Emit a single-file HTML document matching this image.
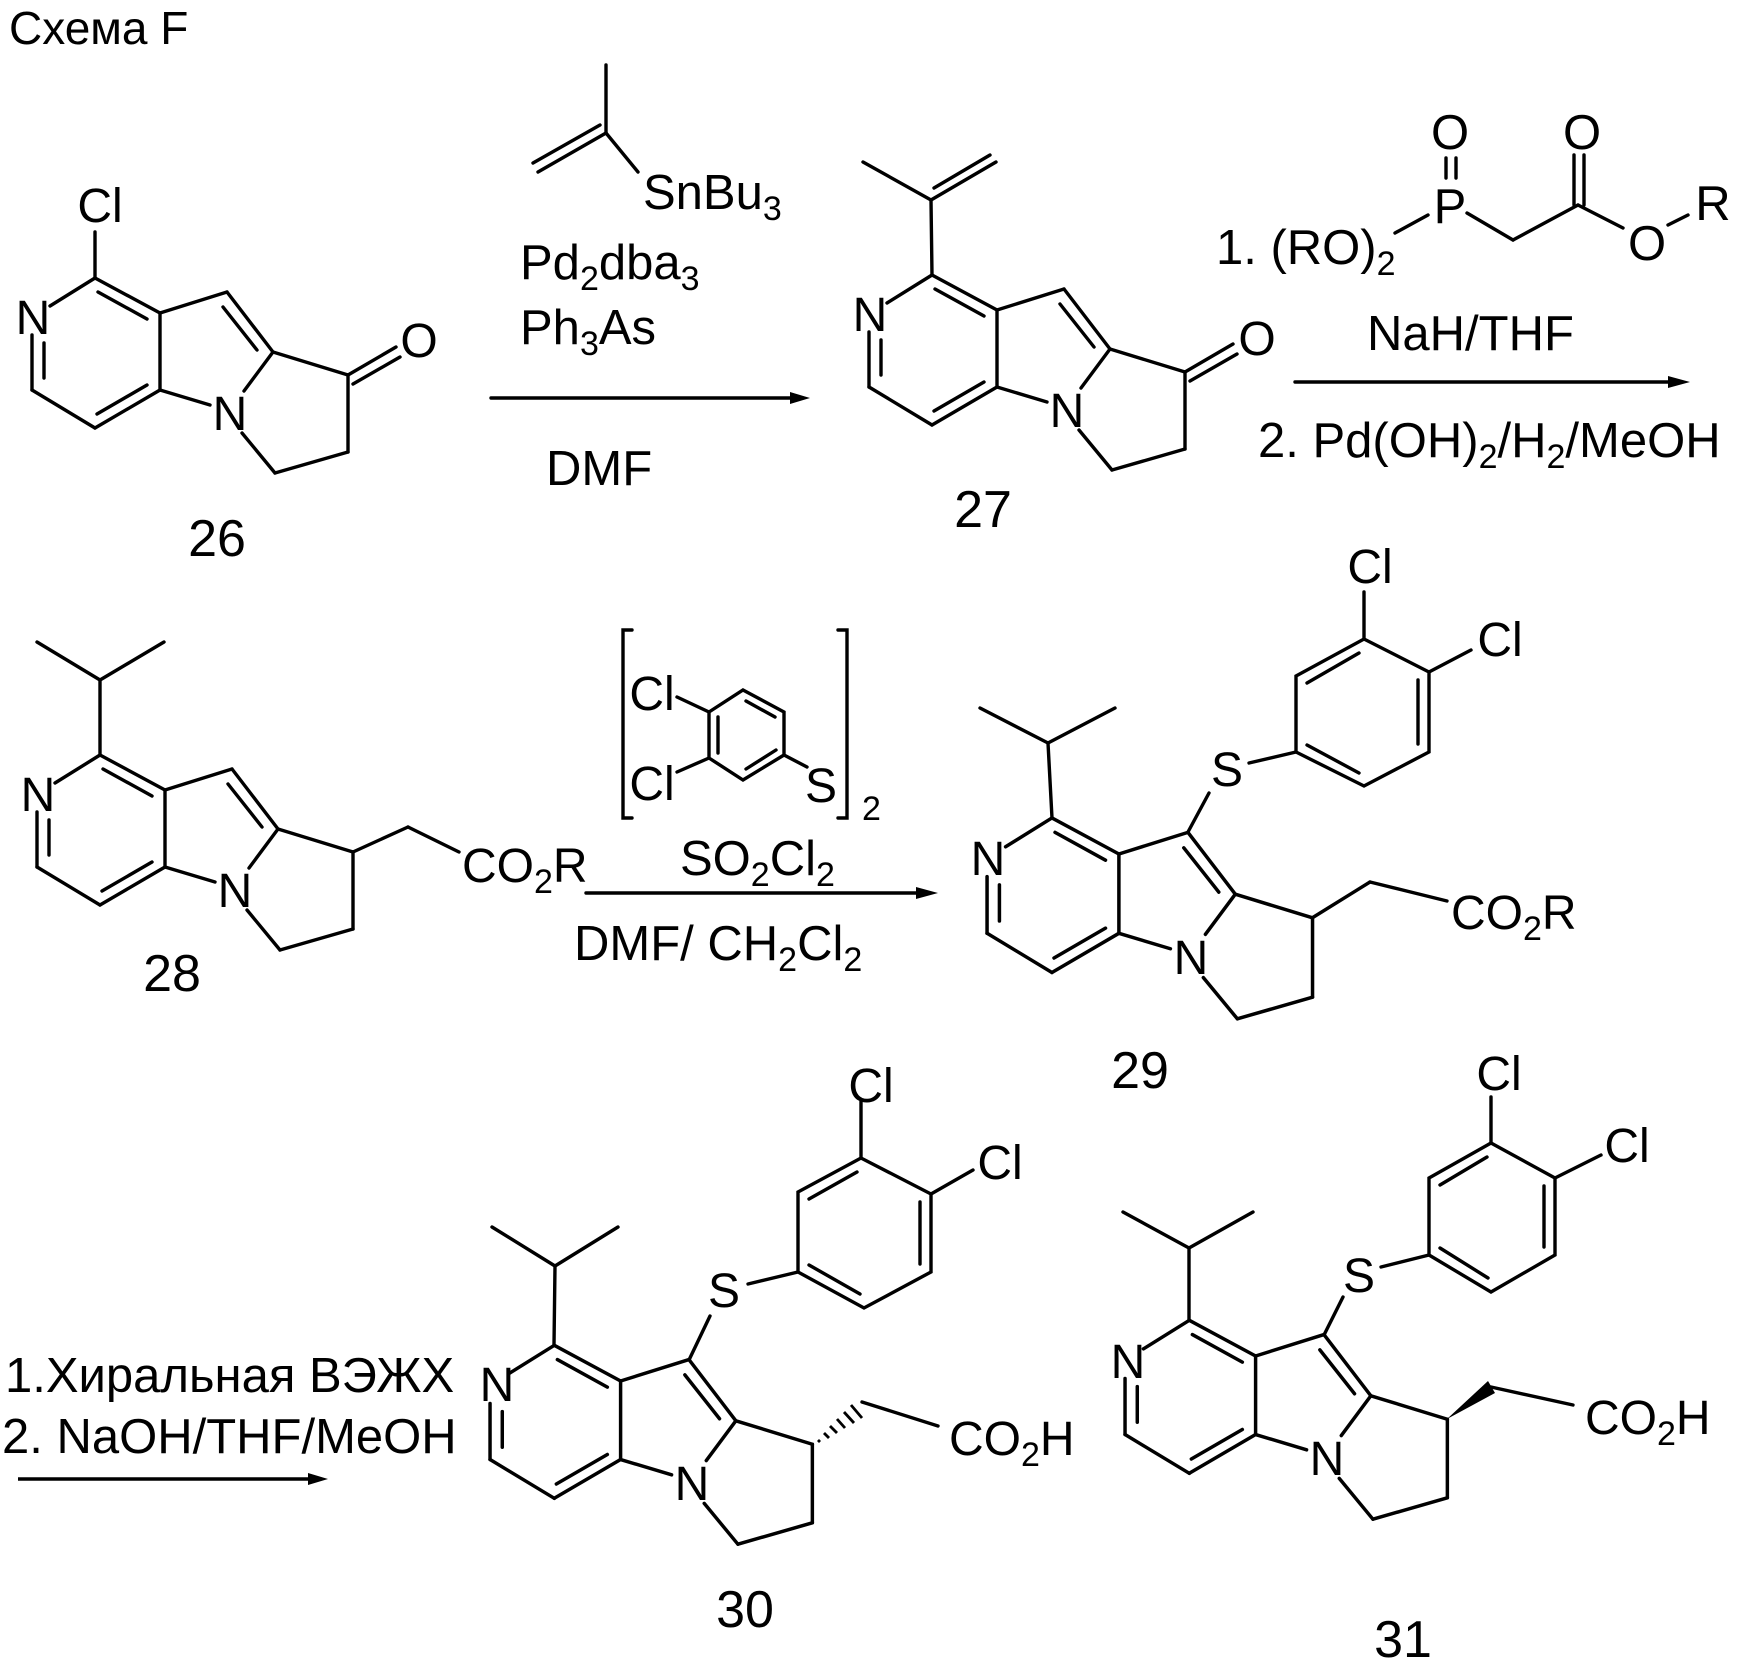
<!DOCTYPE html>
<html><head><meta charset="utf-8"><style>
html,body{margin:0;padding:0;background:#fff;}
svg{display:block;}
text{font-family:"Liberation Sans","DejaVu Sans",sans-serif;fill:#000;}
</style></head><body>
<svg width="1743" height="1662" viewBox="0 0 1743 1662" xmlns="http://www.w3.org/2000/svg">
<defs>
<g id="core" stroke="#000" stroke-width="3.4" fill="none" stroke-linecap="round">
<line x1="-135" y1="-135" x2="-180" y2="-107"/>
<line x1="-198" y1="-78" x2="-198" y2="-23"/>
<line x1="-186" y1="-70" x2="-186" y2="-35"/>
<line x1="-198" y1="-23" x2="-135" y2="15"/>
<line x1="-135" y1="15" x2="-70" y2="-23"/>
<line x1="-133" y1="1" x2="-83" y2="-28"/>
<line x1="-70" y1="-23" x2="-70" y2="-100"/>
<line x1="-70" y1="-100" x2="-135" y2="-135"/>
<line x1="-83" y1="-94" x2="-132" y2="-121"/>
<line x1="-70" y1="-100" x2="-3" y2="-121"/>
<line x1="-3" y1="-121" x2="43" y2="-61"/>
<line x1="-7" y1="-106" x2="27" y2="-63"/>
<line x1="43" y1="-61" x2="14" y2="-22"/>
<line x1="-70" y1="-23" x2="-20" y2="-8"/>
<line x1="43" y1="-61" x2="118" y2="-38"/>
<line x1="118" y1="-38" x2="118" y2="39"/>
<line x1="118" y1="39" x2="45" y2="60"/>
<line x1="45" y1="60" x2="12" y2="20"/>
</g>
</defs>

<text x="9" y="44" font-size="46">Схема F</text>

<!-- 26 -->
<use href="#core" transform="translate(230,413)"/>
<g font-size="48" text-anchor="middle">
<text x="230" y="430">N</text><text x="33" y="334">N</text>
<text x="100" y="222">Cl</text><text x="419" y="357">O</text>
</g>
<text x="217" y="556" font-size="52" text-anchor="middle">26</text>
<g stroke="#000" stroke-width="3.4" stroke-linecap="round">
<line x1="95" y1="278" x2="95" y2="232"/>
<line x1="348" y1="375" x2="396" y2="347"/>
<line x1="353" y1="384" x2="400" y2="357"/>
</g>

<!-- reaction 1 -->
<g stroke="#000" stroke-width="3.4" stroke-linecap="round">
<line x1="606" y1="65" x2="606" y2="133"/>
<line x1="606" y1="133" x2="538" y2="172"/>
<line x1="600" y1="125" x2="533" y2="163"/>
<line x1="606" y1="133" x2="638" y2="172"/>
<line x1="491" y1="398" x2="795" y2="398"/>
</g>
<polygon points="810,398 790,392 790,404" fill="#000"/>
<g font-size="49">
<text x="643" y="209">SnBu<tspan font-size="34" dy="11">3</tspan></text>
<text x="520" y="279">Pd<tspan font-size="34" dy="11">2</tspan><tspan dy="-11">dba</tspan><tspan font-size="34" dy="11">3</tspan></text>
<text x="520" y="344">Ph<tspan font-size="34" dy="11">3</tspan><tspan dy="-11">As</tspan></text>
<text x="546" y="485">DMF</text>
</g>

<!-- 27 -->
<use href="#core" transform="translate(1067,410)"/>
<g font-size="48" text-anchor="middle">
<text x="1067" y="427">N</text><text x="870" y="331">N</text>
<text x="1257" y="355">O</text>
</g>
<text x="983" y="527" font-size="52" text-anchor="middle">27</text>
<g stroke="#000" stroke-width="3.4" stroke-linecap="round">
<line x1="932" y1="275" x2="931" y2="200"/>
<line x1="931" y1="200" x2="863" y2="162"/>
<line x1="931" y1="200" x2="996" y2="162"/>
<line x1="934" y1="188" x2="990" y2="155"/>
<line x1="1185" y1="372" x2="1233" y2="344"/>
<line x1="1190" y1="381" x2="1237" y2="354"/>
</g>

<!-- reaction 2 -->
<g stroke="#000" stroke-width="3.4" stroke-linecap="round">
<line x1="1395" y1="233" x2="1428" y2="215"/>
<line x1="1446" y1="158" x2="1446" y2="178"/>
<line x1="1456" y1="158" x2="1456" y2="178"/>
<line x1="1467" y1="213" x2="1513" y2="240"/>
<line x1="1513" y1="240" x2="1578" y2="205"/>
<line x1="1574" y1="205" x2="1574" y2="155"/>
<line x1="1584" y1="205" x2="1584" y2="155"/>
<line x1="1578" y1="205" x2="1623" y2="228"/>
<line x1="1668" y1="225" x2="1688" y2="215"/>
<line x1="1295" y1="382" x2="1672" y2="382"/>
</g>
<polygon points="1690,382 1668,376 1668,388" fill="#000"/>
<g font-size="49">
<text x="1216" y="264">1. (RO)<tspan font-size="34" dy="11">2</tspan></text>
<text x="1450" y="223" text-anchor="middle">P</text>
<text x="1450" y="149" text-anchor="middle">O</text>
<text x="1582" y="149" text-anchor="middle">O</text>
<text x="1647" y="260" text-anchor="middle">O</text>
<text x="1713" y="220" text-anchor="middle">R</text>
<text x="1367" y="350">NaH/THF</text>
<text x="1258" y="457">2. Pd(OH)<tspan font-size="34" dy="11">2</tspan><tspan dy="-11">/H</tspan><tspan font-size="34" dy="11">2</tspan><tspan dy="-11">/MeOH</tspan></text>
</g>

<!-- 28 -->
<use href="#core" transform="translate(235,890)"/>
<g font-size="48" text-anchor="middle">
<text x="235" y="907">N</text><text x="38" y="811">N</text>
</g>
<text x="172" y="991" font-size="52" text-anchor="middle">28</text>
<g stroke="#000" stroke-width="3.4" stroke-linecap="round">
<line x1="100" y1="755" x2="100" y2="680"/>
<line x1="100" y1="680" x2="37" y2="642"/>
<line x1="100" y1="680" x2="164" y2="642"/>
<line x1="353" y1="852" x2="408" y2="827"/>
<line x1="408" y1="827" x2="459" y2="852"/>
</g>
<text x="462" y="882" font-size="48">CO<tspan font-size="34" dy="11">2</tspan><tspan dy="-11">R</tspan></text>

<!-- reaction 3 -->
<g stroke="#000" stroke-width="3.4" stroke-linecap="round" fill="none">
<polyline points="632,630 623,630 623,818 632,818"/>
<polyline points="838,630 847,630 847,818 838,818"/>
<polygon points="743,690 784,712 784,755 743,780 709,758 709,712"/>
<line x1="746" y1="701" x2="775" y2="717"/>
<line x1="776" y1="750" x2="746" y2="769"/>
<line x1="718" y1="717" x2="718" y2="753"/>
<line x1="677" y1="697" x2="709" y2="712"/>
<line x1="677" y1="772" x2="709" y2="758"/>
<line x1="784" y1="755" x2="807" y2="767"/>
<line x1="586" y1="893" x2="920" y2="893"/>
</g>
<polygon points="938,893 916,887 916,899" fill="#000"/>
<g font-size="48">
<text x="652" y="710" text-anchor="middle">Cl</text>
<text x="652" y="800" text-anchor="middle">Cl</text>
<text x="821" y="802" text-anchor="middle">S</text>
<text x="862" y="820" font-size="34">2</text>
</g>
<g font-size="49">
<text x="680" y="875">SO<tspan font-size="34" dy="11">2</tspan><tspan dy="-11">Cl</tspan><tspan font-size="34" dy="11">2</tspan></text>
<text x="574" y="960">DMF/ CH<tspan font-size="34" dy="11">2</tspan><tspan dy="-11">Cl</tspan><tspan font-size="34" dy="11">2</tspan></text>
</g>

<!-- 29 -->
<use href="#core" transform="translate(1191,957) scale(1.03)"/>
<g font-size="48" text-anchor="middle">
<text x="1191" y="974">N</text><text x="988" y="875">N</text>
<text x="1227" y="786">S</text>
<text x="1370" y="583">Cl</text><text x="1500" y="656">Cl</text>
</g>
<text x="1140" y="1088" font-size="52" text-anchor="middle">29</text>
<g stroke="#000" stroke-width="3.4" stroke-linecap="round" fill="none">
<line x1="1052" y1="818" x2="1048" y2="743"/>
<line x1="1048" y1="743" x2="980" y2="708"/>
<line x1="1048" y1="743" x2="1115" y2="708"/>
<line x1="1188" y1="832" x2="1209" y2="793"/>
<line x1="1249" y1="763" x2="1296" y2="752"/>
<polygon points="1296,752 1296,676 1364,639 1429,672 1429,752 1364,786"/>
<line x1="1307" y1="683" x2="1359" y2="653"/>
<line x1="1418" y1="680" x2="1418" y2="744"/>
<line x1="1307" y1="745" x2="1359" y2="773"/>
<line x1="1364" y1="639" x2="1364" y2="592"/>
<line x1="1429" y1="672" x2="1471" y2="650"/>
<line x1="1312" y1="918" x2="1370" y2="882"/>
<line x1="1370" y1="882" x2="1447" y2="901"/>
</g>
<text x="1451" y="929" font-size="48">CO<tspan font-size="34" dy="11">2</tspan><tspan dy="-11">R</tspan></text>

<!-- reaction 4 -->
<g font-size="49">
<text x="5" y="1392">1.Хиральная ВЭЖХ</text>
<text x="2" y="1453">2. NaOH/THF/MeOH</text>
</g>
<line x1="18" y1="1479" x2="312" y2="1479" stroke="#000" stroke-width="3.4"/>
<polygon points="328,1479 308,1473 308,1485" fill="#000"/>

<!-- 30 -->
<use href="#core" transform="translate(692,1483) scale(1.02)"/>
<g font-size="48" text-anchor="middle">
<text x="692" y="1500">N</text><text x="497" y="1401">N</text>
<text x="724" y="1307">S</text>
<text x="871" y="1102">Cl</text><text x="1000" y="1179">Cl</text>
</g>
<text x="745" y="1627" font-size="52" text-anchor="middle">30</text>
<g stroke="#000" stroke-width="3.4" stroke-linecap="round" fill="none">
<line x1="554" y1="1345" x2="555" y2="1266"/>
<line x1="555" y1="1266" x2="492" y2="1227"/>
<line x1="555" y1="1266" x2="618" y2="1227"/>
<line x1="689" y1="1360" x2="710" y2="1316"/>
<line x1="748" y1="1284" x2="798" y2="1272"/>
<polygon points="798,1272 798,1192 861,1158 931,1194 931,1272 864,1308"/>
<line x1="809" y1="1199" x2="857" y2="1172"/>
<line x1="920" y1="1202" x2="920" y2="1264"/>
<line x1="809" y1="1265" x2="860" y2="1294"/>
<line x1="861" y1="1158" x2="861" y2="1101"/>
<line x1="931" y1="1194" x2="973" y2="1170"/>
<line x1="862" y1="1402" x2="938" y2="1426"/>
</g>
<g stroke="#000" stroke-width="2.8">
<line x1="818" y1="1440" x2="820" y2="1442"/>
<line x1="824" y1="1433" x2="829" y2="1438"/>
<line x1="830" y1="1426" x2="837" y2="1433"/>
<line x1="837" y1="1419" x2="845" y2="1428"/>
<line x1="844" y1="1412" x2="854" y2="1423"/>
<line x1="851" y1="1405" x2="862" y2="1418"/>
</g>
<text x="949" y="1455" font-size="48">CO<tspan font-size="34" dy="11">2</tspan><tspan dy="-11">H</tspan></text>

<!-- 31 -->
<use href="#core" transform="translate(1327,1458) scale(1.02)"/>
<g font-size="48" text-anchor="middle">
<text x="1327" y="1475">N</text><text x="1128" y="1378">N</text>
<text x="1359" y="1292">S</text>
<text x="1499" y="1090">Cl</text><text x="1627" y="1162">Cl</text>
</g>
<text x="1403" y="1657" font-size="52" text-anchor="middle">31</text>
<g stroke="#000" stroke-width="3.4" stroke-linecap="round" fill="none">
<line x1="1189" y1="1320" x2="1189" y2="1248"/>
<line x1="1189" y1="1248" x2="1123" y2="1212"/>
<line x1="1189" y1="1248" x2="1253" y2="1212"/>
<line x1="1324" y1="1335" x2="1343" y2="1297"/>
<line x1="1381" y1="1267" x2="1429" y2="1255"/>
<polygon points="1429,1255 1429,1178 1491,1143 1555,1178 1555,1255 1491,1292"/>
<line x1="1440" y1="1185" x2="1487" y2="1157"/>
<line x1="1544" y1="1186" x2="1544" y2="1247"/>
<line x1="1440" y1="1248" x2="1488" y2="1278"/>
<line x1="1491" y1="1143" x2="1491" y2="1097"/>
<line x1="1555" y1="1178" x2="1601" y2="1155"/>
<line x1="1491" y1="1387" x2="1573" y2="1405"/>
</g>
<polygon points="1447,1419 1495,1393 1488,1381" fill="#000"/>
<text x="1585" y="1434" font-size="48">CO<tspan font-size="34" dy="11">2</tspan><tspan dy="-11">H</tspan></text>
</svg>
</body></html>
